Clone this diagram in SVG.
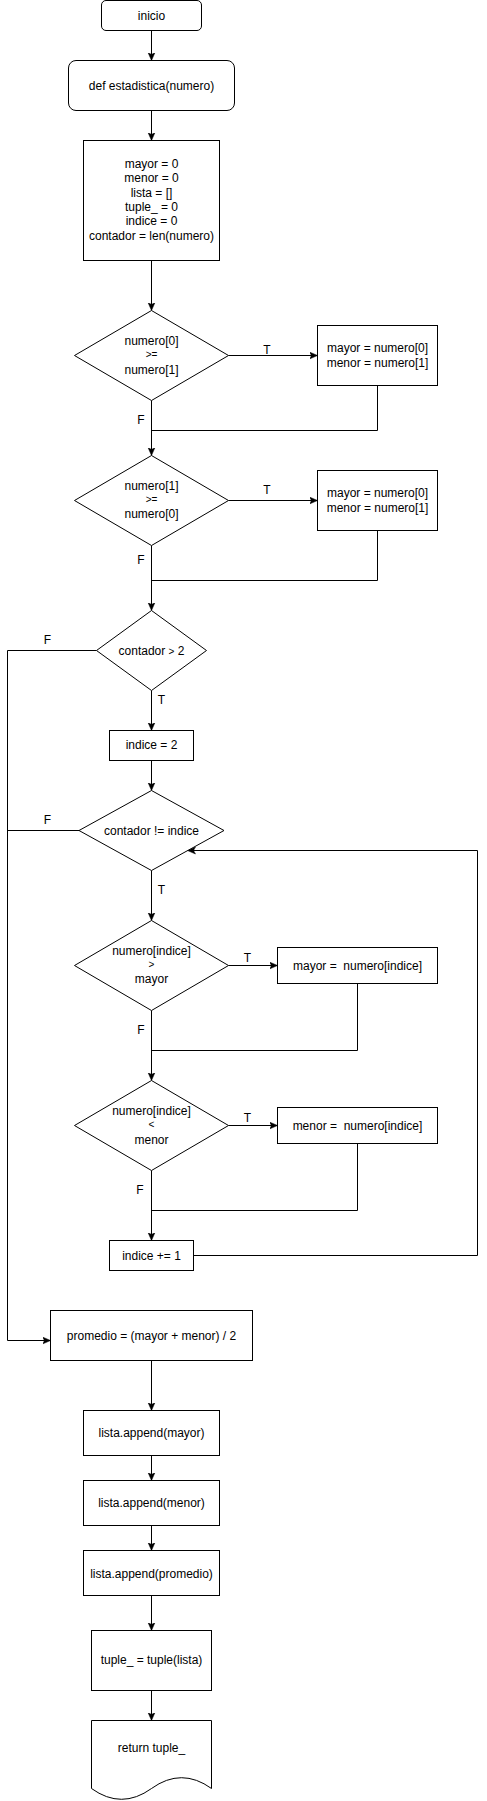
<svg xmlns="http://www.w3.org/2000/svg" width="487" height="1801" viewBox="0 0 487 1801">
<style>
.n{fill:#fff;stroke:#000;stroke-width:1}
.t{font-family:"Liberation Sans",Arial,sans-serif;font-size:12px;fill:#000;text-anchor:middle;white-space:pre}
.s{font-size:10px}
.c{fill:none;stroke:#000;stroke-width:1}
.a{marker-end:url(#arr)}
</style>
<defs>
<marker id="arr" markerUnits="userSpaceOnUse" markerWidth="10" markerHeight="10" refX="8" refY="4" orient="auto">
<path d="M0,0.5 L8,4 L0,7.5 L2,4 Z" fill="#000" stroke="#000" stroke-width="0.5"/>
</marker>
</defs>
<rect width="487" height="1801" fill="#fff"/>
<g id="connectors">
<path class="c a" d="M151.5,30.5 V60.5"/>
<path class="c a" d="M151.5,110.5 V140.5"/>
<path class="c a" d="M151.5,260.5 V310.5"/>
<path class="c a" d="M228.5,355.5 H317.5"/>
<path class="c" d="M377.5,385.5 V430.5 H151.5"/>
<path class="c a" d="M151.5,400.5 V455.5"/>
<path class="c a" d="M228.5,500.5 H317.5"/>
<path class="c" d="M377.5,530.5 V580.5 H151.5"/>
<path class="c a" d="M151.5,545.5 V610.5"/>
<path class="c a" d="M151.5,690.5 V730.5"/>
<path class="c a" d="M96.5,650.5 H7.5 V1340.5 H50.5"/>
<path class="c a" d="M151.5,760.5 V790.5"/>
<path class="c" d="M79,830.5 H7.5"/>
<path class="c a" d="M151.5,870.5 V920.5"/>
<path class="c a" d="M228.5,965.5 H277.5"/>
<path class="c" d="M357.5,983.5 V1050.5 H151.5"/>
<path class="c a" d="M151.5,1010.5 V1080.5"/>
<path class="c a" d="M228.5,1125.5 H277.5"/>
<path class="c" d="M357.5,1143.5 V1210.5 H151.5"/>
<path class="c a" d="M151.5,1170.5 V1240.5"/>
<path class="c a" d="M193.5,1255.5 H477.5 V850.5 H187.5"/>
<path class="c a" d="M151.5,1360.5 V1410.5"/>
<path class="c a" d="M151.5,1455.5 V1480.5"/>
<path class="c a" d="M151.5,1525.5 V1550.5"/>
<path class="c a" d="M151.5,1595.5 V1630.5"/>
<path class="c a" d="M151.5,1690.5 V1720.5"/>
<text class="t" x="267" y="353.5">T</text>
<text class="t" x="141" y="423.5">F</text>
<text class="t" x="267" y="493.5">T</text>
<text class="t" x="141" y="563.5">F</text>
<text class="t" x="47.5" y="643.5">F</text>
<text class="t" x="161.5" y="703.5">T</text>
<text class="t" x="47.5" y="824">F</text>
<text class="t" x="161.5" y="893.5">T</text>
<text class="t" x="247.5" y="962">T</text>
<text class="t" x="141" y="1033.5">F</text>
<text class="t" x="247.5" y="1122">T</text>
<text class="t" x="140" y="1193.5">F</text>
</g>
<g id="inicio">
<rect class="n" x="101.5" y="0.5" width="100" height="30" rx="4.5"/>
<text class="t" x="151.5" y="19.5">inicio</text>
</g>
<g id="def">
<rect class="n" x="68.5" y="60.5" width="166" height="50" rx="7.5"/>
<text class="t" x="151.5" y="89.5">def estadistica(numero)</text>
</g>
<g id="init">
<rect class="n" x="83.5" y="140.5" width="136" height="120"/>
<text class="t" x="151.5" y="167.7">mayor = 0</text>
<text class="t" x="151.5" y="182.1">menor = 0</text>
<text class="t" x="151.5" y="196.5">lista = []</text>
<text class="t" x="151.5" y="210.9">tuple_ = 0</text>
<text class="t" x="151.5" y="225.3">indice = 0</text>
<text class="t" x="151.5" y="239.7">contador = len(numero)</text>
</g>
<g id="d1">
<path class="n" d="M151.5,310.5 L228.5,355.5 L151.5,400.5 L74.5,355.5 Z"/>
<text class="t" x="151.5" y="345">numero[0]</text>
<text class="t s" x="151.5" y="358">&gt;=</text>
<text class="t" x="151.5" y="374">numero[1]</text>
</g>
<g id="box1">
<rect class="n" x="317.5" y="325.5" width="120" height="60"/>
<text class="t" x="377.5" y="351.7">mayor = numero[0]</text>
<text class="t" x="377.5" y="366.7">menor = numero[1]</text>
</g>
<g id="d2">
<path class="n" d="M151.5,455.5 L228.5,500.5 L151.5,545.5 L74.5,500.5 Z"/>
<text class="t" x="151.5" y="489.7">numero[1]</text>
<text class="t s" x="151.5" y="503">&gt;=</text>
<text class="t" x="151.5" y="518.3">numero[0]</text>
</g>
<g id="box2">
<rect class="n" x="317.5" y="470.5" width="120" height="60"/>
<text class="t" x="377.5" y="496.7">mayor = numero[0]</text>
<text class="t" x="377.5" y="511.7">menor = numero[1]</text>
</g>
<g id="d3">
<path class="n" d="M151.5,610.5 L206.5,650.5 L151.5,690.5 L96.5,650.5 Z"/>
<text class="t" x="151.5" y="654.5">contador <tspan class="s">&gt;</tspan> 2</text>
</g>
<g id="indice2">
<rect class="n" x="109.5" y="730.5" width="84" height="30"/>
<text class="t" x="151.5" y="749">indice = 2</text>
</g>
<g id="d4">
<path class="n" d="M151.5,790.5 L224,830.5 L151.5,870.5 L79,830.5 Z"/>
<text class="t" x="151.5" y="834.5">contador != indice</text>
</g>
<g id="d5">
<path class="n" d="M151.5,920.5 L228.5,965.5 L151.5,1010.5 L74.5,965.5 Z"/>
<text class="t" x="151.5" y="954.7">numero[indice]</text>
<text class="t s" x="151.5" y="968">&gt;</text>
<text class="t" x="151.5" y="983.3">mayor</text>
</g>
<g id="boxmayor">
<rect class="n" x="277.5" y="947.5" width="160" height="36"/>
<text class="t" x="357.5" y="969.5">mayor =  numero[indice]</text>
</g>
<g id="d6">
<path class="n" d="M151.5,1080.5 L228.5,1125.5 L151.5,1170.5 L74.5,1125.5 Z"/>
<text class="t" x="151.5" y="1114.7">numero[indice]</text>
<text class="t s" x="151.5" y="1128">&lt;</text>
<text class="t" x="151.5" y="1143.7">menor</text>
</g>
<g id="boxmenor">
<rect class="n" x="277.5" y="1107.5" width="160" height="36"/>
<text class="t" x="357.5" y="1129.5">menor =  numero[indice]</text>
</g>
<g id="incr">
<rect class="n" x="109.5" y="1240.5" width="84" height="30"/>
<text class="t" x="151.5" y="1259.5">indice += 1</text>
</g>
<g id="promedio">
<rect class="n" x="50.5" y="1310.5" width="202" height="50"/>
<text class="t" x="151.5" y="1339.5">promedio = (mayor + menor) / 2</text>
</g>
<g id="app1">
<rect class="n" x="83.5" y="1410.5" width="136" height="45"/>
<text class="t" x="151.5" y="1437">lista.append(mayor)</text>
</g>
<g id="app2">
<rect class="n" x="83.5" y="1480.5" width="136" height="45"/>
<text class="t" x="151.5" y="1507">lista.append(menor)</text>
</g>
<g id="app3">
<rect class="n" x="83.5" y="1550.5" width="136" height="45"/>
<text class="t" x="151.5" y="1577.5">lista.append(promedio)</text>
</g>
<g id="tuple">
<rect class="n" x="91.5" y="1630.5" width="120" height="60"/>
<text class="t" x="151.5" y="1664">tuple_ = tuple(lista)</text>
</g>
<g id="return">
<path class="n" d="M91.5,1720.5 L211.5,1720.5 L211.5,1788.5 Q181.5,1766.9 151.5,1788.5 Q121.5,1810.1 91.5,1788.5 Z"/>
<text class="t" x="151.5" y="1751.5">return tuple_</text>
</g>
</svg>
